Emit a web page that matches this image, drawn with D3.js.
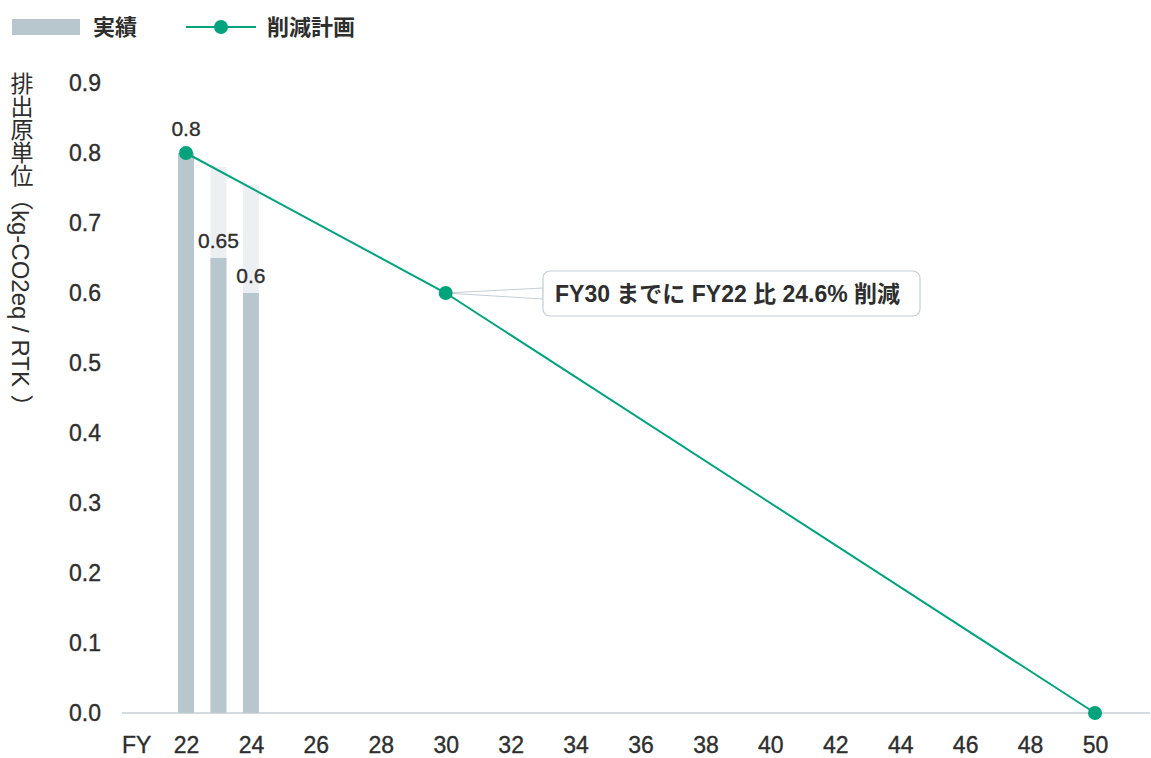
<!DOCTYPE html>
<html>
<head>
<meta charset="utf-8">
<script src="https://cdn.jsdelivr.net/npm/d3@7"></script>
<style>
  body { margin: 0; background: #fff; }
  svg text { font-family: "Liberation Sans", Arial, "Noto Sans CJK JP", sans-serif; fill: #2e2e2e; }
  .num { stroke: #2e2e2e; stroke-width: 0.35px; }
</style>
</head>
<body>
<svg id="chart" width="1151" height="758"></svg>
<script>
// actual values (bars)
var actualYears = [22, 23, 24];
var actualValues = [0.8, 0.65, 0.6];
var actualLabels = ["0.8", "0.65", "0.6"];
// plan level shown behind the bars
var planBarValues = [0.8, 0.78, 0.755];
// reduction plan (line)
var planYears = [22, 30, 50];
var planValues = [0.8, 0.6, 0.0];
var xTicks = [22, 24, 26, 28, 30, 32, 34, 36, 38, 40, 42, 44, 46, 48, 50];
var yTicks = [0, 0.1, 0.2, 0.3, 0.4, 0.5, 0.6, 0.7, 0.8, 0.9];
var calloutText = "FY30 までに FY22 比 24.6% 削減";

var svg = d3.select("#chart");
var green = "#00a37c", barColor = "#b8c6cd", barBg = "#edf0f3", axisColor = "#c6ced3";

var x = d3.scaleLinear().domain([22, 50]).range([186, 1095]);
var y = d3.scaleLinear().domain([0, 0.9]).range([713, 83]);

// legend
var legend = svg.append("g");
legend.append("rect").attr("x", 12).attr("y", 19).attr("width", 68).attr("height", 16).attr("fill", barColor);
legend.append("text").attr("x", 93).attr("y", 27).attr("dy", "0.36em")
  .style("font-size", "22px").style("font-weight", "bold").text("実績");
legend.append("line").attr("x1", 186).attr("x2", 256).attr("y1", 27).attr("y2", 27)
  .attr("stroke", green).attr("stroke-width", 2);
legend.append("circle").attr("cx", 221).attr("cy", 27).attr("r", 7).attr("fill", green);
legend.append("text").attr("x", 267).attr("y", 27).attr("dy", "0.36em")
  .style("font-size", "22px").style("font-weight", "bold").text("削減計画");

// y axis label (vertical writing)
var ylab = svg.append("text")
  .attr("x", 20).attr("y", 72)
  .style("writing-mode", "vertical-rl")
  .style("font-size", "23px");
ylab.append("tspan").text("排出原単位（");
ylab.append("tspan").style("font-size", "24px").text("kg-CO2eq / RTK");
ylab.append("tspan").attr("dy", 8).text("）");

// y ticks
var yAxis = d3.axisLeft(y).tickValues(yTicks).tickFormat(d3.format(".1f")).tickSize(0).tickPadding(0);
var gy = svg.append("g").attr("transform", "translate(101,0)").call(yAxis);
gy.select(".domain").remove();
gy.selectAll("text").attr("class", "num").style("font-size", "23px").attr("fill", "#2e2e2e");

// x axis
var xAxis = d3.axisBottom(x).tickValues(xTicks).tickSize(0).tickPadding(0);
var gx = svg.append("g").attr("transform", "translate(0,713)").call(xAxis);
gx.select(".domain").remove();
gx.selectAll("text").attr("class", "num").attr("y", 40).attr("dy", 0).style("font-size", "23px").attr("fill", "#2e2e2e");
svg.append("line").attr("x1", 122).attr("x2", 1150).attr("y1", 713).attr("y2", 713)
  .attr("stroke", axisColor).attr("stroke-width", 1.5);
svg.append("text").attr("class", "num").attr("x", 122).attr("y", 753).style("font-size", "23px").text("FY");

// bars
var bw = 16;
svg.append("g").selectAll("rect").data(actualYears).enter().append("rect")
  .attr("x", function(d) { return x(d) - bw / 2; })
  .attr("y", function(d, i) { return y(planBarValues[i]); })
  .attr("width", bw)
  .attr("height", function(d, i) { return y(0) - y(planBarValues[i]); })
  .attr("fill", barBg);
svg.append("g").selectAll("rect").data(actualYears).enter().append("rect")
  .attr("x", function(d) { return x(d) - bw / 2; })
  .attr("y", function(d, i) { return y(actualValues[i]); })
  .attr("width", bw)
  .attr("height", function(d, i) { return y(0) - y(actualValues[i]); })
  .attr("fill", barColor);

// callout pointer + box
var px = x(30), py = y(0.6);
svg.append("path")
  .attr("d", "M" + px + "," + py + "L543,288L543,299Z")
  .attr("fill", "#fff").attr("stroke", axisColor).attr("stroke-width", 1);
svg.append("rect").attr("x", 543).attr("y", 271).attr("width", 377).attr("height", 45)
  .attr("rx", 7).attr("fill", "#fff").attr("stroke", axisColor).attr("stroke-width", 1.2);
svg.append("text").attr("x", 555).attr("y", 294).attr("dy", "0.36em")
  .style("font-size", "23px").style("font-weight", "bold").text(calloutText);

// plan line
var line = d3.line().x(function(d) { return x(d[0]); }).y(function(d) { return y(d[1]); });
svg.append("path").datum(d3.zip(planYears, planValues))
  .attr("d", line).attr("fill", "none").attr("stroke", green).attr("stroke-width", 2);
svg.append("g").selectAll("circle").data(d3.zip(planYears, planValues)).enter().append("circle")
  .attr("cx", function(d) { return x(d[0]); })
  .attr("cy", function(d) { return y(d[1]); })
  .attr("r", 7).attr("fill", green);

// data labels
svg.append("g").selectAll("text").data(actualYears).enter().append("text")
  .attr("class", "num")
  .attr("x", function(d) { return x(d); })
  .attr("y", function(d, i) { return y(actualValues[i]) - (i === 0 ? 17 : 10); })
  .attr("text-anchor", "middle")
  .style("font-size", "21px")
  .text(function(d, i) { return actualLabels[i]; });
</script>
</body>
</html>
